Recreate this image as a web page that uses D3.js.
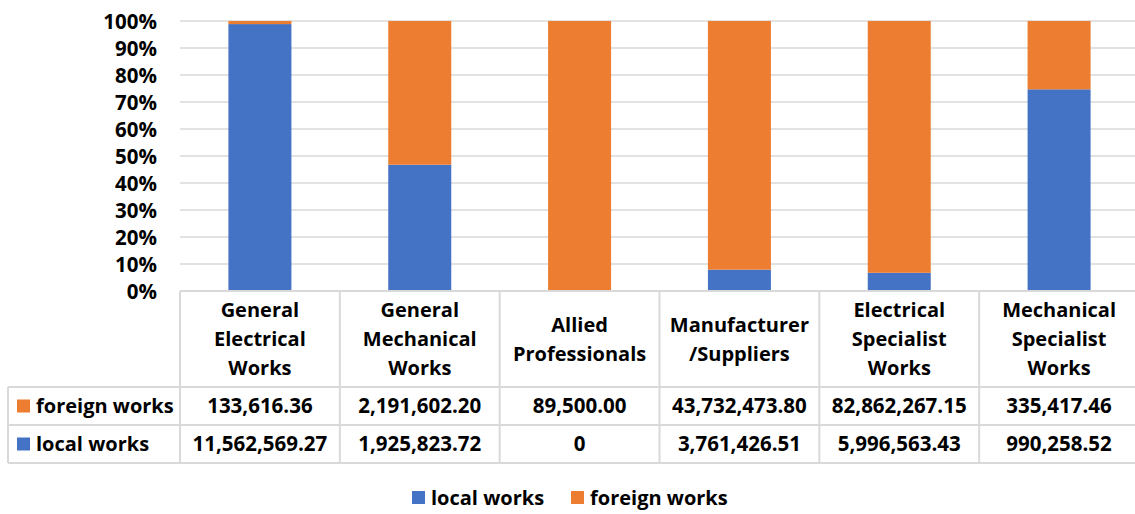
<!DOCTYPE html>
<html><head><meta charset="utf-8">
<script src="https://cdn.jsdelivr.net/npm/d3@7"></script>
<style>html,body{margin:0;padding:0;background:#fff;overflow:hidden}</style>
</head><body>
<svg id="c" width="1135" height="514"></svg>
<script>
const categories = [["General","Electrical","Works"],["General","Mechanical","Works"],["Allied","Professionals"],["Manufacturer","/Suppliers"],["Electrical","Specialist","Works"],["Mechanical","Specialist","Works"]];
const localWorks = [11562569.27, 1925823.72, 0, 3761426.51, 5996563.43, 990258.52];
const foreignWorks = [133616.36, 2191602.20, 89500.00, 43732473.80, 82862267.15, 335417.46];
const localLabels = ["11,562,569.27","1,925,823.72","0","3,761,426.51","5,996,563.43","990,258.52"];
const foreignLabels = ["133,616.36","2,191,602.20","89,500.00","43,732,473.80","82,862,267.15","335,417.46"];
const yTicks = [0,0.1,0.2,0.3,0.4,0.5,0.6,0.7,0.8,0.9,1];
const seriesNames = ["local works","foreign works"];
const colors = {"local works":"#4472C4","foreign works":"#ED7D31"};

(function(){
const svg = d3.select("#c");
const font = "'Open Sans', Lato, sans-serif";
const fsWord = 20, fsNum = 20.5, fsTick = 20.5;
const pL = 180, pR = 1139, pT = 21, pB = 291;
const x = d3.scaleBand().domain(d3.range(categories.length)).range([pL, pR]).paddingInner(0).paddingOuter(0);
const y = d3.scaleLinear().domain([0,1]).range([pB, pT]);
const gridC = "#d9d9d9";

svg.append("g").selectAll("line").data(yTicks).join("line")
  .attr("x1", pL).attr("x2", 1135).attr("y1", d=>y(d)).attr("y2", d=>y(d))
  .attr("stroke", gridC).attr("stroke-width", 1.5);

const yAxis = d3.axisLeft(y).tickValues(yTicks).tickFormat(d3.format(".0%")).tickSize(0).tickPadding(0);
const ya = svg.append("g").attr("transform", `translate(${pL-23},0)`).call(yAxis);
ya.select(".domain").remove();
ya.selectAll("text").attr("font-family", font).attr("font-weight","bold").attr("font-size",fsTick).attr("fill","#000").attr("dy","0.35em");

const data = categories.map((c,i)=>{const t=localWorks[i]+foreignWorks[i]; return {i, "local works": localWorks[i]/t, "foreign works": foreignWorks[i]/t};});
const stack = d3.stack().keys(seriesNames)(data);
const bw = 63;
svg.append("g").selectAll("g").data(stack).join("g").attr("fill", d=>colors[d.key])
  .selectAll("rect").data(d=>d).join("rect")
  .attr("x", d=>x(d.data.i)+x.bandwidth()/2-bw/2).attr("width", bw)
  .attr("y", d=>y(d[1])).attr("height", d=>Math.max(0,y(d[0])-y(d[1])));

const tableLeft = 8;
const rowTops = [291, 387, 425, 463];
const tg = svg.append("g");
const lineAttr = sel => sel.attr("stroke", gridC).attr("stroke-width", 2);
tg.append("line").attr("x1", pL).attr("x2", 1135).attr("y1", rowTops[0]).attr("y2", rowTops[0]).call(lineAttr);
[1,2,3].forEach(k=>tg.append("line").attr("x1", tableLeft).attr("x2", 1135).attr("y1", rowTops[k]).attr("y2", rowTops[k]).call(lineAttr));
tg.append("line").attr("x1", tableLeft).attr("x2", tableLeft).attr("y1", rowTops[1]).attr("y2", rowTops[3]).call(lineAttr);
d3.range(categories.length).forEach(i=>{
  tg.append("line").attr("x1", x(i)).attr("x2", x(i)).attr("y1", rowTops[0]).attr("y2", rowTops[3]).call(lineAttr);
});
categories.forEach((lines,i)=>{
  const cx = x(i)+x.bandwidth()/2;
  const lh = 29;
  const mid = (rowTops[0]+rowTops[1])/2;
  const start = mid - (lines.length-1)*lh/2;
  lines.forEach((t,k)=>{
    tg.append("text").attr("x", cx).attr("y", start+k*lh).attr("dy","0.35em").attr("text-anchor","middle")
      .attr("font-family", font).attr("font-weight","bold").attr("font-size",fsWord).attr("fill","#000").text(t);
  });
});
const rows = [{name:"foreign works", labels: foreignLabels},{name:"local works", labels: localLabels}];
rows.forEach((r,k)=>{
  const cy = (rowTops[k+1]+rowTops[k+2])/2;
  tg.append("rect").attr("x", 17).attr("y", cy-6.5).attr("width", 13).attr("height", 13).attr("fill", colors[r.name]);
  tg.append("text").attr("x", 36).attr("y", cy).attr("dy","0.35em")
    .attr("font-family", font).attr("font-weight","bold").attr("font-size",fsWord).attr("fill","#000").text(r.name);
  r.labels.forEach((t,i)=>{
    tg.append("text").attr("x", x(i)+x.bandwidth()/2).attr("y", cy).attr("dy","0.35em").attr("text-anchor","middle")
      .attr("font-family", font).attr("font-weight","bold").attr("font-size",fsNum).attr("fill","#000").text(t);
  });
});

const lg = svg.append("g");
const legendItems = [{name:"local works", x:412},{name:"foreign works", x:571}];
legendItems.forEach(it=>{
  lg.append("rect").attr("x", it.x).attr("y", 491).attr("width", 13).attr("height", 13).attr("fill", colors[it.name]);
  lg.append("text").attr("x", it.x+19).attr("y", 497.5).attr("dy","0.35em")
    .attr("font-family", font).attr("font-weight","bold").attr("font-size",fsWord).attr("fill","#000").text(it.name);
});
})();
</script>
</body></html>
